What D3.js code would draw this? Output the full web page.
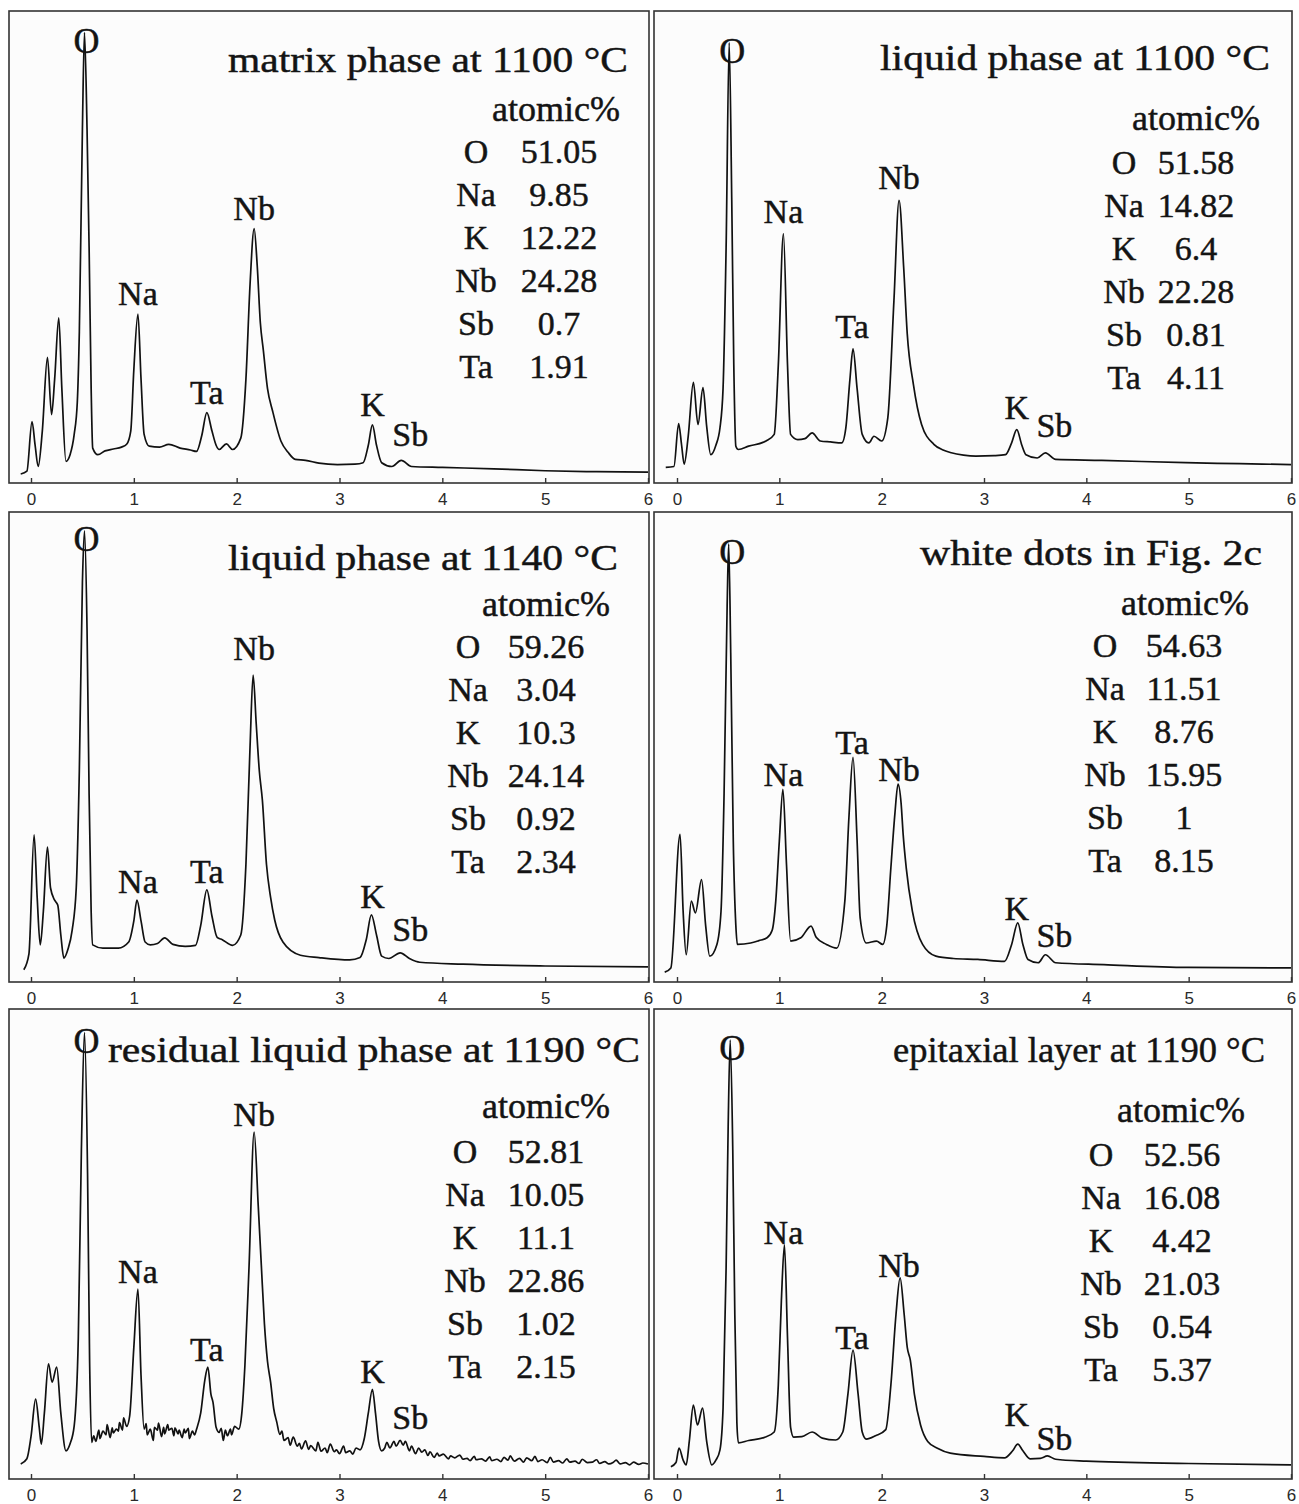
<!DOCTYPE html>
<html>
<head>
<meta charset="utf-8">
<script src="https://cdn.jsdelivr.net/npm/d3@7"></script>
<style>
  body { margin: 0; background: #fff; }
</style>
</head>
<body>
<div id="chart"></div>
<script>
// EDS spectra: energy (keV) vs counts, counts given as % of panel height
var titles = [
  "matrix phase at 1100 \u00b0C",
  "liquid phase at 1100 \u00b0C",
  "liquid phase at 1140 \u00b0C",
  "white dots in Fig. 2c",
  "residual liquid phase at 1190 \u00b0C",
  "epitaxial layer at 1190 \u00b0C"
];
var elements = ["O", "Na", "K", "Nb", "Sb", "Ta"];
var atomicPct = [
  [51.05, 9.85, 12.22, 24.28, 0.7, 1.91],
  [51.58, 14.82, 6.4, 22.28, 0.81, 4.11],
  [59.26, 3.04, 10.3, 24.14, 0.92, 2.34],
  [54.63, 11.51, 8.76, 15.95, 1, 8.15],
  [52.81, 10.05, 11.1, 22.86, 1.02, 2.15],
  [52.56, 16.08, 4.42, 21.03, 0.54, 5.37]
];
var xTicks = [0, 1, 2, 3, 4, 5, 6];
// energy of the labelled lines
var peakNames = ["O", "Na", "Ta", "Nb", "K", "Sb"];
var peakEnergy = [0.52, 1.04, 1.71, 2.17, 3.32, 3.60];

var spectrumA = [[-0.10,1.9],[-0.04,2.5],[0.01,13.0],[0.04,8],[0.07,3.5],[0.11,11],[0.16,26.6],[0.20,14.5],[0.23,22],[0.27,35.0],[0.30,20],[0.34,4.6],[0.38,6],[0.42,10.3],[0.45,17],[0.47,32],[0.50,75],[0.52,95.4],[0.545,75],[0.565,50],[0.585,20],[0.60,7.4],[0.65,6.0],[0.72,6.8],[0.80,7.2],[0.88,7.6],[0.93,8.2],[0.97,11],[1.00,24],[1.04,35.8],[1.07,22],[1.10,10.3],[1.15,7.8],[1.25,7.6],[1.34,8.2],[1.45,7.4],[1.55,7.0],[1.61,6.7],[1.66,10],[1.71,14.9],[1.76,11],[1.80,8],[1.83,7.1],[1.90,8.3],[1.96,7.1],[2.04,9.5],[2.09,22],[2.13,42],[2.17,53.9],[2.20,46],[2.23,34],[2.26,28],[2.30,20],[2.35,15.2],[2.43,8.9],[2.50,6.5],[2.57,5.0],[2.67,4.8],[2.80,4.2],[2.98,3.9],[3.15,4.0],[3.23,4.3],[3.28,8],[3.32,12.3],[3.36,8],[3.41,4.3],[3.51,3.5],[3.60,4.8],[3.70,3.5],[4.00,3.3],[4.50,3.0],[5.00,2.6],[5.50,2.4],[6.00,2.3]];

var spectrumB = [[-0.11,3.3],[-0.03,3.5],[0.016,12.6],[0.045,8],[0.07,4.0],[0.11,10],[0.16,21.3],[0.205,12.4],[0.254,20.2],[0.29,12],[0.33,6.0],[0.38,8],[0.42,11.7],[0.45,20],[0.48,50],[0.51,93.3],[0.535,60],[0.555,25],[0.575,7.8],[0.60,7.1],[0.70,7.8],[0.87,8.9],[0.95,10.3],[0.99,25],[1.04,52.8],[1.08,25],[1.11,10.3],[1.18,9.2],[1.25,9.4],[1.32,10.6],[1.40,8.9],[1.50,8.7],[1.61,8.5],[1.65,11.7],[1.69,22],[1.72,28.4],[1.76,20],[1.81,10.3],[1.875,8.5],[1.925,9.9],[2.00,8.9],[2.06,13.8],[2.12,38.7],[2.17,59.9],[2.215,45.7],[2.25,31.6],[2.31,20.9],[2.39,12.4],[2.51,8.2],[2.60,7.0],[2.68,6.4],[2.80,5.9],[2.92,5.7],[3.10,5.8],[3.21,6.0],[3.27,8.5],[3.32,11.3],[3.37,8],[3.41,6.0],[3.52,5.3],[3.60,6.4],[3.70,5.0],[4.15,4.8],[4.97,4.3],[5.50,4.1],[6.00,3.9]];

var spectrumC = [[-0.07,2.6],[-0.02,6],[0.03,31.3],[0.06,18],[0.09,7.9],[0.12,15],[0.16,28.7],[0.19,20],[0.23,17.4],[0.26,16.4],[0.29,10],[0.32,5.1],[0.36,7],[0.40,11],[0.44,20],[0.47,45],[0.50,85],[0.52,96],[0.545,75],[0.565,40],[0.585,15],[0.60,7.9],[0.70,7.2],[0.85,7.2],[0.95,8.5],[1.00,13],[1.03,17.4],[1.07,13],[1.11,8.5],[1.16,7.9],[1.23,8.2],[1.30,9.4],[1.38,8],[1.50,7.6],[1.60,7.8],[1.65,12],[1.71,19.6],[1.76,14],[1.81,9.5],[1.86,9],[1.96,7.8],[2.04,10],[2.09,25],[2.13,50],[2.16,65.3],[2.19,55],[2.22,45],[2.25,38.7],[2.29,25],[2.33,18],[2.37,13.2],[2.45,8.5],[2.62,5.7],[2.80,5.2],[3.10,4.7],[3.20,5.2],[3.26,9],[3.31,14.3],[3.36,10],[3.41,5.5],[3.48,5],[3.59,6.2],[3.68,5],[3.78,4.2],[4.20,3.8],[5.00,3.4],[6.00,3.2]];

var spectrumD = [[-0.12,2.1],[-0.06,3.0],[0.03,31.4],[0.06,15],[0.09,5.8],[0.14,17.2],[0.18,14.7],[0.24,21.8],[0.28,12],[0.32,5.5],[0.39,8.0],[0.43,15],[0.46,40],[0.49,80],[0.505,93.2],[0.525,70],[0.55,30],[0.575,12],[0.59,8.0],[0.72,8.3],[0.80,8.8],[0.88,9.4],[0.93,11],[0.965,17.2],[1.00,30],[1.035,41.0],[1.07,25],[1.11,8.7],[1.21,9.4],[1.31,11.9],[1.36,9.5],[1.46,8.0],[1.56,7.2],[1.64,17.2],[1.68,35],[1.72,47.8],[1.76,30],[1.79,13.6],[1.85,8.3],[1.95,8.7],[2.01,8.0],[2.05,12],[2.09,24.3],[2.13,36],[2.16,42.1],[2.19,38],[2.21,31.4],[2.24,24.3],[2.30,15.1],[2.40,8.0],[2.53,5.5],[2.70,5.0],[2.94,4.8],[3.20,4.4],[3.27,8],[3.33,12.6],[3.38,8],[3.43,4.8],[3.53,4.1],[3.60,5.8],[3.70,4.1],[4.17,3.7],[4.99,3.1],[6.00,3.0]];

var spectrumE = [[-0.10,3.2],[-0.04,4.3],[0.00,9],[0.045,17.0],[0.08,11],[0.10,7.4],[0.13,14],[0.17,24.5],[0.205,20.6],[0.25,23.8],[0.29,14],[0.34,6.0],[0.38,7.5],[0.42,11.3],[0.46,30],[0.49,70],[0.52,95],[0.55,65],[0.57,25],[0.59,7.8],[0.61,9.2],[0.63,8.0],[0.66,10.4],[0.67,8.6],[0.70,10.2],[0.73,9.4],[0.74,11.6],[0.77,8.8],[0.79,10.9],[0.80,9.8],[0.83,10.6],[0.85,10.2],[0.86,12.0],[0.89,10.4],[0.90,13.0],[0.93,11.2],[0.96,13.5],[1.00,28],[1.04,40.4],[1.07,22],[1.10,10.6],[1.12,11.8],[1.13,9.4],[1.16,10.6],[1.19,8.2],[1.20,11.0],[1.23,10.4],[1.24,11.9],[1.27,9.0],[1.29,11.0],[1.30,9.6],[1.33,11.6],[1.34,10.4],[1.37,10.8],[1.39,9.2],[1.40,10.9],[1.43,9.6],[1.44,10.4],[1.47,8.8],[1.49,10.6],[1.50,9.8],[1.53,10.8],[1.54,8.6],[1.57,10.2],[1.59,9.4],[1.61,10.6],[1.65,14],[1.69,21],[1.72,23.8],[1.75,18],[1.77,16.3],[1.80,11],[1.83,9.9],[1.85,10.8],[1.87,8.2],[1.89,10.4],[1.91,9.2],[1.94,10.6],[1.95,9.4],[1.98,11.2],[2.02,10.6],[2.05,14],[2.08,24.1],[2.12,45],[2.17,73.8],[2.21,58],[2.24,45.4],[2.27,33],[2.30,25],[2.33,20.6],[2.36,15],[2.39,12.1],[2.42,9.5],[2.44,10.2],[2.46,8.2],[2.50,8.8],[2.52,7.2],[2.55,8.9],[2.59,7.0],[2.61,7.6],[2.63,6.4],[2.67,8.1],[2.70,6.3],[2.72,7.1],[2.77,6.0],[2.79,7.8],[2.82,5.9],[2.86,6.6],[2.88,5.6],[2.91,7.4],[2.95,5.8],[2.97,6.2],[3.00,5.4],[3.04,7.0],[3.06,5.6],[3.10,6.0],[3.13,5.3],[3.16,6.6],[3.20,6.2],[3.24,8.5],[3.28,14],[3.32,19.1],[3.35,14],[3.38,8],[3.41,6.0],[3.44,6.6],[3.46,7.8],[3.49,6.6],[3.53,8.0],[3.55,7.0],[3.59,8.2],[3.62,7.2],[3.64,8.0],[3.68,6.0],[3.70,7.0],[3.74,5.4],[3.77,6.6],[3.80,5.7],[3.83,6.2],[3.86,5.0],[3.88,5.8],[3.92,4.6],[3.95,5.5],[3.97,4.9],[4.01,5.3],[4.06,4.3],[4.08,4.9],[4.12,4.5],[4.17,5.1],[4.20,4.2],[4.24,4.4],[4.27,3.9],[4.31,4.8],[4.33,4.1],[4.38,4.3],[4.42,3.8],[4.46,4.7],[4.48,3.9],[4.53,4.2],[4.57,3.7],[4.60,4.6],[4.64,4.0],[4.66,4.9],[4.70,3.8],[4.75,4.4],[4.79,3.6],[4.82,4.5],[4.87,3.9],[4.90,4.8],[4.93,3.7],[4.97,4.1],[5.02,3.5],[5.05,4.6],[5.08,3.6],[5.13,3.9],[5.17,3.4],[5.21,4.3],[5.24,3.6],[5.29,3.8],[5.33,3.3],[5.36,4.2],[5.41,3.5],[5.46,3.6],[5.50,4.1],[5.53,3.3],[5.58,3.7],[5.62,3.2],[5.66,3.5],[5.69,4.0],[5.73,3.2],[5.78,3.5],[5.82,3.0],[5.86,3.6],[5.91,3.1],[5.95,3.4],[6.00,3.2]];

var spectrumF = [[-0.06,2.6],[-0.01,3.5],[0.02,6.6],[0.06,4],[0.09,3],[0.12,8],[0.16,15.7],[0.20,11.5],[0.25,15.1],[0.29,8],[0.34,3],[0.38,4],[0.42,6.2],[0.45,15],[0.48,45],[0.50,75],[0.52,93.4],[0.545,70],[0.565,35],[0.585,12],[0.60,7.7],[0.70,8.2],[0.85,8.8],[0.95,10],[0.99,20],[1.02,38],[1.05,49.8],[1.08,30],[1.11,11],[1.14,8.9],[1.22,9],[1.32,10],[1.42,8.7],[1.55,8.3],[1.62,10],[1.67,18],[1.72,27.4],[1.77,18],[1.81,10],[1.85,8.5],[1.94,9.2],[2.04,10.5],[2.09,20],[2.14,35],[2.18,42.8],[2.22,35],[2.25,28],[2.28,25.3],[2.32,18],[2.38,11.5],[2.45,8],[2.55,6.5],[2.67,5.5],[3.00,4.8],[3.20,4.5],[3.28,6],[3.33,7.4],[3.38,6],[3.45,4.3],[3.55,4.4],[3.62,4.9],[3.70,4.2],[4.00,3.8],[5.00,3.3],[6.00,3.0]];

var spectra = [spectrumA, spectrumB, spectrumC, spectrumD, spectrumE, spectrumF];

// ---- layout ----
var W = 1299, H = 1504;
var cols = [{left: 9, right: 649, x0: 31, x6: 648}, {left: 654, right: 1292, x0: 677, x6: 1291}];
var rows = [{top: 11, bottom: 483}, {top: 512, bottom: 982}, {top: 1009, bottom: 1479}];
// per panel text layout; gap = space between a peak top and its label, nudge = per-label extra lift
var textPos = [
  {tx: 228, ty: 72, tw: 400, ax: 556, ay: 121, ex: 476, vx: 559, ry: 163, gap: 9, nudge: {}},
  {tx: 880, ty: 70, tw: 390, ax: 1196, ay: 130, ex: 1124, vx: 1196, ry: 174, gap: 11, nudge: {}},
  {tx: 228, ty: 570, tw: 390, ax: 546, ay: 616, ex: 468, vx: 546, ry: 658, gap: 7, nudge: {Nb: 8}},
  {tx: 920, ty: 565, tw: 342, ax: 1185, ay: 615, ex: 1105, vx: 1184, ry: 657, gap: 3, nudge: {}},
  {tx: 108, ty: 1062, tw: 532, ax: 546, ay: 1118, ex: 465, vx: 546, ry: 1163, gap: 6, nudge: {}},
  {tx: 893, ty: 1062, tw: 372, ax: 1181, ay: 1122, ex: 1101, vx: 1182, ry: 1166, gap: 1, nudge: {K: 17}}
];
var rowStep = 43;
var serif = "Liberation Serif";
var ink = "#141414";

var svg = d3.select("#chart").append("svg")
    .attr("width", W)
    .attr("height", H)
    .style("display", "block");

svg.append("rect").attr("width", W).attr("height", H).attr("fill", "#fff");

function label(g, txt, x, y, size, anchor) {
    return g.append("text")
        .attr("x", x).attr("y", y)
        .attr("text-anchor", anchor || "middle")
        .style("font-family", serif)
        .style("font-size", size + "px")
        .attr("fill", ink)
        .attr("stroke", ink)
        .attr("stroke-width", 0.45)
        .text(txt);
}

spectra.forEach(function(data, i) {
    var c = cols[i % 2], r = rows[Math.floor(i / 2)], tp = textPos[i];

    var x = d3.scaleLinear().domain([0, 6]).range([c.x0, c.x6]);
    var y = d3.scaleLinear().domain([0, 100]).range([r.bottom, r.top]);

    var g = svg.append("g");

    g.append("rect")
        .attr("x", c.left).attr("y", r.top)
        .attr("width", c.right - c.left).attr("height", r.bottom - r.top)
        .attr("fill", "#fcfcfc")
        .attr("stroke", "#333").attr("stroke-width", 1.6);

    // ticks point up into the box
    var axis = d3.axisBottom(x).tickValues(xTicks).tickSize(-5).tickPadding(10)
        .tickFormat(d3.format("d"));
    var ax = g.append("g")
        .attr("transform", "translate(0," + r.bottom + ")")
        .call(axis);
    ax.select(".domain").remove();
    ax.selectAll("line").attr("stroke", "#333").attr("stroke-width", 1.4);
    ax.selectAll("text")
        .style("font-family", "Liberation Sans")
        .style("font-size", "17px")
        .attr("fill", "#2a2a2a");

    var line = d3.line()
        .x(function(d) { return x(d[0]); })
        .y(function(d) { return y(d[1]); })
        .curve(d3.curveMonotoneX);

    g.append("path")
        .datum(data)
        .attr("d", line)
        .attr("fill", "none")
        .attr("stroke", "#111")
        .attr("stroke-width", 1.7)
        .attr("stroke-linejoin", "round");

    // peak labels sit above the local maximum
    peakNames.forEach(function(name, k) {
        var e = peakEnergy[k];
        var near = data.filter(function(d) { return Math.abs(d[0] - e) < 0.06; });
        var top = d3.max(near, function(d) { return d[1]; });
        var px = x(e), py = y(top) - (tp.nudge[name] || 0);
        if (name === "O") {
            label(g, name, px + 2, py + 20, 36);
        } else if (name === "Sb") {
            label(g, name, px + 9, py - tp.gap - 5, 34);
        } else {
            label(g, name, px, py - tp.gap, 34);
        }
    });

    label(g, titles[i], tp.tx, tp.ty, 36, "start")
        .attr("textLength", tp.tw)
        .attr("lengthAdjust", "spacingAndGlyphs");

    label(g, "atomic%", tp.ax, tp.ay, 36);

    elements.forEach(function(el, k) {
        label(g, el, tp.ex, tp.ry + k * rowStep, 34);
        label(g, String(atomicPct[i][k]), tp.vx, tp.ry + k * rowStep, 34);
    });
});
</script>
</body>
</html>
